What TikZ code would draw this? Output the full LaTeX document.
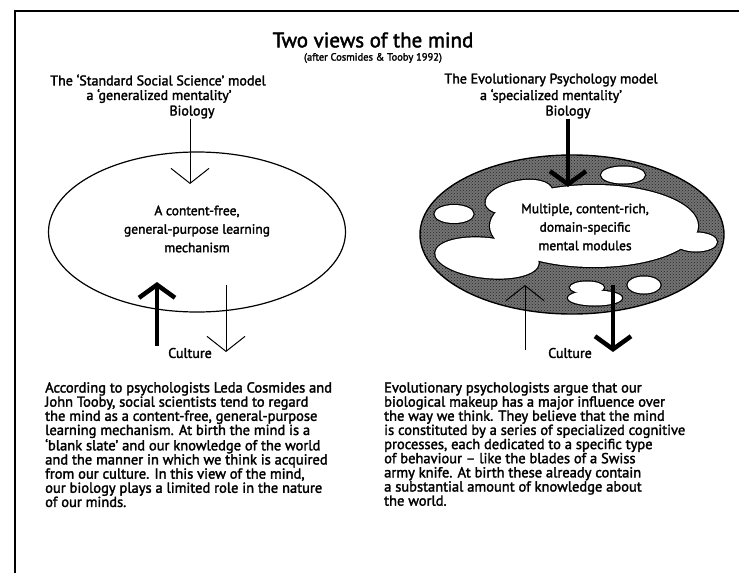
\documentclass[tikz,border=0pt]{standalone}
\usepackage{fontspec}
\setmainfont{PT Sans}[FakeBold=2]
\usetikzlibrary{arrows.meta,patterns,shapes.geometric}
\begin{document}
\begin{tikzpicture}[x=1pt,y=-1pt,
  lbl/.style={inner sep=0pt,font=\fontsize{14}{16}\selectfont},
  inlbl/.style={inner sep=0pt,align=center,font=\fontsize{13.5}{18.5}\selectfont},
  para/.style={inner sep=0pt,align=left,anchor=north west,font=\fontsize{14.5}{14.15}\selectfont},
  thinarr/.style={line width=1pt,-{Straight Barb[length=15pt,width=38pt]}},
  thickarr/.style={line width=4.5pt,-{Straight Barb[length=13pt,width=36pt]}},
  blobline/.style={draw=black,line width=2.4pt},
  blobfill/.style={fill=white}]
\useasboundingbox (0,0) rectangle (739,573);
\fill[white] (0,0) rectangle (739,573);
% frame
\draw[line width=2.8pt] (15,573) -- (15,11) -- (739,11);
% titles
\node[inner sep=0pt,font=\fontsize{21}{26}\selectfont] (title) at (373,40) {Two views of the mind};
\node[inner sep=0pt,font=\fontsize{10.5}{12}\selectfont] (sub) at (373,58) {(after Cosmides \& Tooby 1992)};
\node[lbl] (hL1) at (158,80) {The `Standard Social Science' model};
\node[lbl] (hL2) at (159,96) {a `generalized mentality'};
\node[lbl] (bioL) at (192,112) {Biology};
\node[lbl] (hR1) at (551,80) {The Evolutionary Psychology model};
\node[lbl] (hR2) at (551,96) {a `specialized mentality'};
\node[lbl] (bioR) at (568,112) {Biology};
% left model
\node[draw,ellipse,line width=1.2pt,minimum width=297pt,minimum height=160pt,inner sep=0pt] (mindL) at (197,232) {};
\node[inlbl] (txtL) at (197,229) {A content-free,\\general-purpose learning\\mechanism};
\node[lbl] (culL) at (190,353) {Culture};
\coordinate (bLtip) at (190,184);
\coordinate (cLup0) at (157,346);
\coordinate (cLup1) at (157,282);
\coordinate (cLdn0) at (226,285);
\coordinate (cLdn1) at (226,352);
\draw[thinarr] (bioL.south -| bLtip) -- (bLtip);
\draw[thickarr] (cLup0) -- (cLup1);
\draw[thinarr] (cLdn0) -- (cLdn1);
% right model
\node[draw,ellipse,line width=1.4pt,fill=black!55,minimum width=304pt,minimum height=159pt,inner sep=0pt] (ringR) at (572,234.5) {};
\fill[pattern=crosshatch dots,pattern color=black!85] (572,234.5) ellipse (151 and 78.5);
% module outlines
\draw[blobline] (594,226) ellipse (104 and 41);
\draw[blobline,rotate around={12:(519,197)}] (519,197) ellipse (34 and 16);
\draw[blobline] (623,175) ellipse (22 and 8.5);
\draw[blobline] (454,214) ellipse (19.5 and 9);
\draw[blobline,rotate around={-6:(487,258)}] (487,258) ellipse (52 and 20);
\draw[blobline] (696,242) ellipse (21 and 9.5);
\draw[blobline] (587,287.5) ellipse (17 and 6);
\draw[blobline] (595,298) ellipse (27 and 7.5);
\draw[blobline] (644,285) ellipse (16.5 and 8.5);
% module fills
\fill[blobfill] (594,226) ellipse (104 and 41);
\fill[blobfill,rotate around={12:(519,197)}] (519,197) ellipse (34 and 16);
\fill[blobfill] (623,175) ellipse (22 and 8.5);
\fill[blobfill] (454,214) ellipse (19.5 and 9);
\fill[blobfill,rotate around={-6:(487,258)}] (487,258) ellipse (52 and 20);
\fill[blobfill] (696,242) ellipse (21 and 9.5);
\fill[blobfill] (587,287.5) ellipse (17 and 6);
\fill[blobfill] (595,298) ellipse (27 and 7.5);
\fill[blobfill] (644,285) ellipse (16.5 and 8.5);
\node[inlbl] (txtR) at (585,227) {Multiple, content-rich,\\domain-specific\\mental modules};
\node[lbl] (culR) at (570,353) {Culture};
\coordinate (bRtip) at (568,187);
\coordinate (cRup0) at (525,350);
\coordinate (cRup1) at (525,285);
\coordinate (cRdn0) at (613,285);
\coordinate (cRdn1) at (613,352);
\draw[thickarr] (bioR.south -| bRtip) -- (bRtip);
\draw[thinarr] (cRup0) -- (cRup1);
\draw[thickarr] (cRdn0) -- (cRdn1);
% paragraphs
\node[para] (pL) at (45,382) {According to psychologists Leda Cosmides and\\
John Tooby, social scientists tend to regard\\
the mind as a content-free, general-purpose\\
learning mechanism. At birth the mind is a\\
`blank slate' and our knowledge of the world\\
and the manner in which we think is acquired\\
from our culture. In this view of the mind,\\
our biology plays a limited role in the nature\\
of our minds.};
\node[para] (pR) at (384,382) {Evolutionary psychologists argue that our\\
biological makeup has a major influence over\\
the way we think. They believe that the mind\\
is constituted by a series of specialized cognitive\\
processes, each dedicated to a specific type\\
of behaviour -- like the blades of a Swiss\\
army knife. At birth these already contain\\
a substantial amount of knowledge about\\
the world.};
\end{tikzpicture}
\end{document}
